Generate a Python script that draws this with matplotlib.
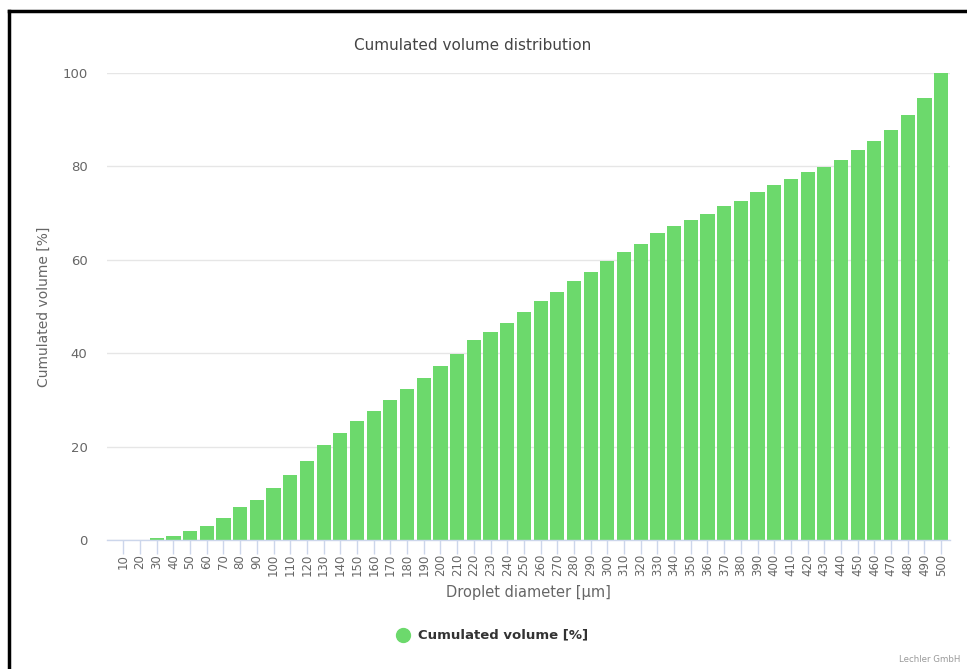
import matplotlib
matplotlib.use("Agg")
import matplotlib.pyplot as plt
from matplotlib.lines import Line2D
import numpy as np

# Droplet size classes (µm) and cumulated volume share (%)
diameters = [10, 20, 30, 40, 50, 60, 70, 80, 90, 100,
             110, 120, 130, 140, 150, 160, 170, 180, 190, 200,
             210, 220, 230, 240, 250, 260, 270, 280, 290, 300,
             310, 320, 330, 340, 350, 360, 370, 380, 390, 400,
             410, 420, 430, 440, 450, 460, 470, 480, 490, 500]
cumulated_volume = [0.05, 0.1, 0.4, 0.9, 2.0, 3.1, 4.7, 7.0, 8.5, 11.2,
                    13.9, 17.0, 20.4, 23.0, 25.4, 27.7, 29.9, 32.3, 34.6, 37.3,
                    39.9, 42.8, 44.6, 46.5, 48.9, 51.2, 53.2, 55.5, 57.4, 59.7,
                    61.6, 63.4, 65.8, 67.3, 68.6, 69.9, 71.5, 72.6, 74.5, 76.0,
                    77.2, 78.7, 79.8, 81.4, 83.6, 85.5, 87.9, 90.9, 94.7, 100.0]
y_ticks = [0, 20, 40, 60, 80, 100]

BAR_GREEN = "#6cd96c"
GRID = "#e6e6e6"
AXIS = "#ccd6eb"
LABEL = "#666666"
TITLE = "#444444"

plt.rcParams["font.family"] = ["DejaVu Sans"]

W, H = 967, 669
fig = plt.figure(figsize=(W / 100, H / 100), dpi=100)
fig.patch.set_facecolor("white")

left, right, top, bottom = 107, 950, 73, 540
ax = fig.add_axes([left / W, 1 - bottom / H, (right - left) / W, (bottom - top) / H])

x = np.arange(len(diameters))
ax.bar(x, cumulated_volume, width=0.85, color=BAR_GREEN, edgecolor="none", zorder=3)

ax.set_ylim(0, 100)
ax.set_xlim(-0.98, len(diameters) - 0.47)
ax.set_yticks(y_ticks)
ax.set_yticklabels([str(v) for v in y_ticks], fontsize=9.5, color=LABEL)
ax.tick_params(axis="y", length=0, pad=14)
ax.grid(axis="y", color=GRID, linewidth=1, zorder=0)

ax.set_xticks(x)
ax.set_xticklabels([str(d) for d in diameters], rotation=90, fontsize=8.5,
                   color=LABEL, va="top")
ax.tick_params(axis="x", length=10, color=AXIS, width=1, pad=0)

for side in ("top", "right", "left"):
    ax.spines[side].set_visible(False)
ax.spines["bottom"].set_color(AXIS)
ax.spines["bottom"].set_linewidth(1)
ax.spines["bottom"].set_zorder(4)

ax.set_ylabel("Cumulated volume [%]", fontsize=10, color=LABEL, va="center")
ax.yaxis.set_label_coords((44 - left) / (right - left), 0.5)
ax.set_xlabel("Droplet diameter [\u03bcm]", fontsize=10.5, color=LABEL, va="center")
ax.xaxis.set_label_coords(0.5, (bottom - 593) / (bottom - top))

fig.text(473 / W, 1 - 45 / H, "Cumulated volume distribution", fontsize=11,
         color=TITLE, ha="center", va="center")

# Legend entry
fig.add_artist(Line2D([403 / W], [1 - 635 / H], marker="o", markersize=10,
                      color=BAR_GREEN, linestyle="none", transform=fig.transFigure))
fig.text(418 / W, 1 - 635 / H, "Cumulated volume [%]", fontsize=9.5,
         fontweight="bold", color="#333333", ha="left", va="center")

# Credits
fig.text(960 / W, 1 - 660 / H, "Lechler GmbH", fontsize=6.2, color="#999999",
         ha="right", va="center")

# Outer frame
fig.add_artist(Line2D([9 / W, 9 / W], [0, 1 - 11 / H], color="black", linewidth=2.5,
                      transform=fig.transFigure, solid_capstyle="projecting"))
fig.add_artist(Line2D([9 / W, 1], [1 - 11 / H, 1 - 11 / H], color="black", linewidth=2.5,
                      transform=fig.transFigure, solid_capstyle="projecting"))

fig.savefig("out.png", dpi=100, facecolor="white")
